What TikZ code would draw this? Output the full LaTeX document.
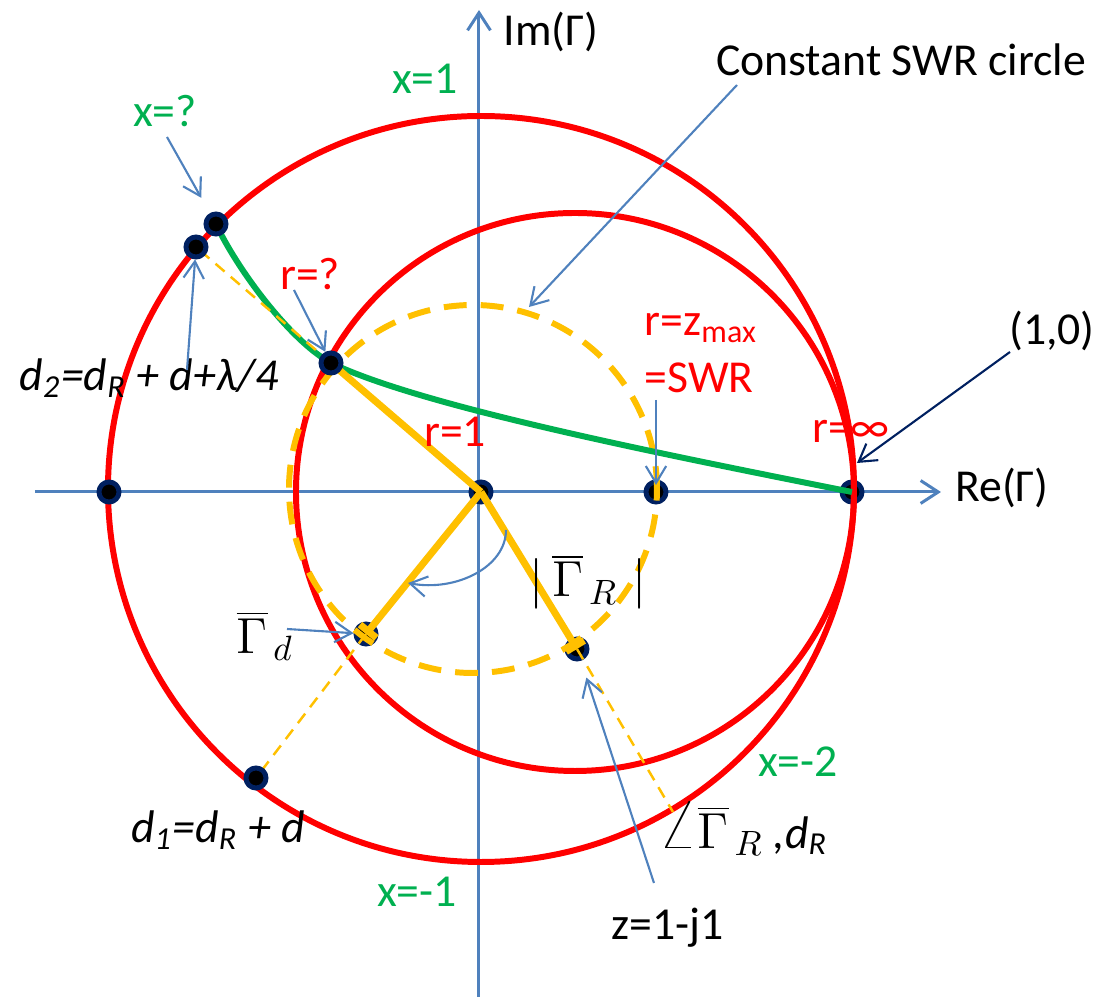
\documentclass[tikz,border=0pt]{standalone}
\usepackage{fontspec}
\setmainfont{Carlito}
\usetikzlibrary{arrows.meta}

\definecolor{axisblue}{HTML}{4F81BD}
\definecolor{chartred}{HTML}{FF0000}
\definecolor{locusgreen}{HTML}{00B050}
\definecolor{swryellow}{HTML}{FFC000}
\definecolor{dotnavy}{HTML}{002060}
\newcommand{\chartmath}{\fontsize{14.4}{17}\selectfont}

\tikzset{
  axis/.style={draw=axisblue, line width=0.85pt,
               -{Straight Barb[length=5pt,width=6.5pt]}},
  pointer/.style={draw=axisblue, line width=0.6pt,
                  -{Straight Barb[length=4.8pt,width=5.8pt]}},
  chartcircle/.style={draw=chartred, line width=1.7pt},
  locus/.style={draw=locusgreen, line width=1.7pt},
  swrcircle/.style={draw=swryellow, line width=1.7pt, dash pattern=on 6.5pt off 4pt},
  phasor/.style={draw=swryellow, line width=2pt},
  guide/.style={draw=swryellow, line width=0.7pt, dash pattern=on 3.4pt off 2.3pt},
  chartdot/.style={circle, fill=black, draw=dotnavy, line width=1.4pt,
                   minimum size=0.2cm, inner sep=0pt},
  lbl/.style={font=\fontsize{13}{16}\selectfont, inner sep=0pt},
  redlbl/.style={lbl, text=chartred},
  greenlbl/.style={lbl, text=locusgreen},
}

\begin{document}
\begin{tikzpicture}[x=0.01cm, y=0.01cm]
  \useasboundingbox (-481,-505) rectangle (618,492);

  % points on the chart
  \coordinate (xq_pt) at (-265,268);
  \coordinate (d2_pt) at (-285,245);
  \coordinate (rq_pt) at (-150,129);
  \coordinate (short_pt) at (-372,0);
  \coordinate (origin_pt) at (0,0);
  \coordinate (swr_pt) at (175,0);
  \coordinate (open_pt) at (371,0);
  \coordinate (gd_pt) at (-115,-142);
  \coordinate (gr_pt) at (96,-157);
  \coordinate (d1_pt) at (-225,-286);
  \coordinate (dr_pt) at (192,-320);

  % axes
  \coordinate (re_start) at (-446,0);
  \coordinate (re_end) at (460,0);
  \coordinate (im_start) at (-2,-505);
  \coordinate (im_end) at (-2,482);
  \draw[axis] (re_start) -- (re_end);
  \draw[axis] (im_start) -- (im_end);

  % dots lying under the lines
  \node[chartdot] (origin_dot) at (origin_pt) {};
  \node[chartdot] (swr_dot) at (swr_pt) {};
  \node[chartdot] (open_dot) at (open_pt) {};
  \node[chartdot] (gd_dot) at (gd_pt) {};
  \node[chartdot] (gr_dot) at (gr_pt) {};

  % circles and curves
  \draw[chartcircle] (0,3) circle (373);
  \draw[chartcircle] (94,0) circle (279);
  \draw[swrcircle] (-8,3) circle (184);
  \draw[locus] (xq_pt) .. controls (-245,225) and (-192,152) .. (rq_pt)
                       .. controls (-60,86) and (170,40) .. (open_pt);
  \draw[guide] (rq_pt) -- (d2_pt);
  \draw[guide] (gd_pt) -- (d1_pt);
  \draw[guide] (gr_pt) -- (dr_pt);
  \draw[phasor] (origin_pt) -- (rq_pt);
  \draw[phasor, -{Bar[width=6pt]}] (origin_pt) -- (gd_pt);
  \draw[phasor, -{Bar[width=6pt]}] (origin_pt) -- (gr_pt);

  % dots on top
  \node[chartdot] (xq_dot) at (xq_pt) {};
  \node[chartdot] (d2_dot) at (d2_pt) {};
  \node[chartdot] (rq_dot) at (rq_pt) {};
  \node[chartdot] (short_dot) at (short_pt) {};
  \node[chartdot] (d1_dot) at (d1_pt) {};

  % labels
  \node[lbl] (re_lbl) at (521,4) {Re(Γ)};
  \node[lbl] (im_lbl) at (70,460) {Im(Γ)};
  \node[lbl] (swr_title) at (420,432) {Constant SWR circle};
  \node[greenlbl] (x1_lbl) at (-56,413) {x=1};
  \node[greenlbl] (xq_lbl) at (-316,381) {x=?};
  \node[redlbl] (rq_lbl) at (-171,218) {r=?};
  \node[redlbl, anchor=west, align=left] (zmax_lbl) at (163,139) {r=z\textsubscript{max}\\=SWR};
  \node[redlbl] (r1_lbl) at (-26,60) {r=1};
  \node[redlbl] (rinf_lbl) at (370,61) {r=∞};
  \node[lbl] (open_lbl) at (571,161) {(1,0)};
  \node[lbl, font=\fontsize{13}{16}\selectfont\itshape] (d2_lbl) at (-332,114)
       {d\textsubscript{2}=d\textsubscript{R} + d+λ/4};
  \node[lbl, font=\chartmath] (gd_lbl) at (-216,-144) {$\overline{\Gamma}_{\,d}$};
  \node[lbl, font=\chartmath] (gr_lbl) at (107,-90) {$|\,\overline{\Gamma}_{\,R}\;|$};
  \node[greenlbl] (x2_lbl) at (317,-270) {x=-2};
  \node[lbl] (ang_lbl) at (262,-337)
       {{\fontsize{20.74}{22}\selectfont$\angle$}{\chartmath$\overline{\Gamma}_{\,R}$}\ \textit{,d\textsubscript{R}}};
  \node[lbl] (z_lbl) at (187,-436) {z=1-j1};
  \node[lbl, font=\fontsize{13}{16}\selectfont\itshape] (d1_lbl) at (-263,-338)
       {d\textsubscript{1}=d\textsubscript{R} + d};
  \node[greenlbl] (xm1_lbl) at (-64,-400) {x=-1};

  % pointers
  \coordinate (xq_tail) at (-314,355);
  \coordinate (d2_tail) at (-294,122);
  \coordinate (rq_tail) at (-187,202);
  \coordinate (title_tail) at (256,407);
  \coordinate (title_head) at (48,185);
  \coordinate (zmax_tail) at (175,92);
  \coordinate (open_tail) at (529,140);
  \coordinate (open_head) at (376,29);
  \coordinate (gd_tail) at (-194,-137);
  \coordinate (z_tail) at (173,-391);
  \coordinate (turn_start) at (25,-38);
  \coordinate (turn_end) at (-73,-91);

  \draw[pointer, shorten >=5pt] (xq_tail) -- (xq_dot);
  \draw[pointer] (d2_tail) -- (d2_dot);
  \draw[pointer] (rq_tail) -- (rq_dot);
  \draw[pointer] (title_tail) -- (title_head);
  \draw[pointer, shorten >=2pt] (zmax_tail) -- (swr_dot.center);
  \draw[pointer, draw=dotnavy] (open_tail) -- (open_head);
  \draw[pointer] (gd_tail) -- (gd_dot);
  \draw[pointer, shorten >=5pt] (z_tail) -- (gr_dot);
  \draw[pointer] (turn_start) .. controls (25,-75) and (-25,-100) .. (turn_end);
\end{tikzpicture}
\end{document}
